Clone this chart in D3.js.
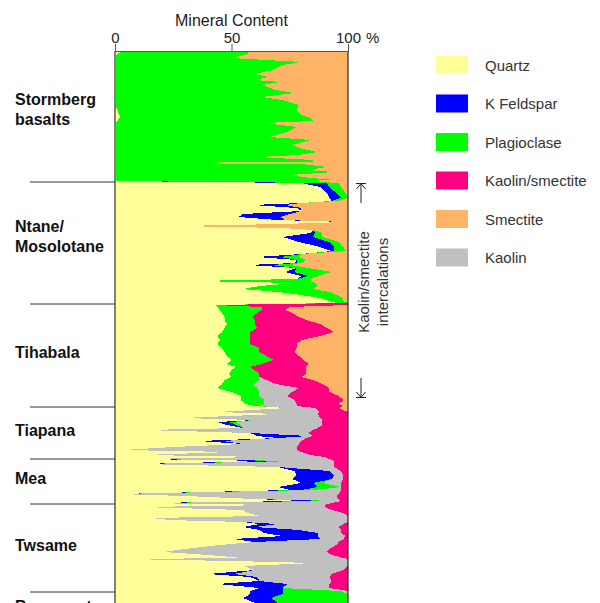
<!DOCTYPE html>
<html><head><meta charset="utf-8">
<script src="https://cdn.jsdelivr.net/npm/d3@7"></script>
<style>body{margin:0;background:#fff}svg{display:block}</style>
</head><body>
<svg id="chart" width="600" height="603"></svg>
<script>
// ---- data (depth in m below top of section, values in %) ----
const depth = [
  0,3,7,11,14,19,23,26,29,31,34,39,42,46,49,54,59,64,67,70,72,76,81,86,89,94,97,101,104,106,109,111,112,113,116,119,121,124,127,129,130,
  132,136,142,147,150,152,154,157,160,163,166,169,171,173,175,177,179,182,186,191,196,200,203,206,209,212,214,217,221,225,228,230,232,235,238,241,244,247,250,252,
  254,256,259,262,266,269,273,277,281,285,289,293,297,301,305,309,313,316,319,323,326,329,333,337,341,345,349,353,355,
  357,361,363,367,369,371,374,377,379,382,385,387,390,393,396,399,401,404,406,408,
  410,413,416,420,424,428,432,436,439,443,445,448,450,452,
  454,456,459,462,465,467,469,471,473,476,479,482,485,488,491,494,498,501,504,507,508,510,512,515,519,523,526,530,533,537,540,543,547,552,561
];
const quartz = [
  3,1,0,0,0,0,0,0,0,0,0,0,0,0,0,0,1,2,2,1,0,0,0,0,0,0,0,0,0,0,0,0,0,0,0,0,0,0,0,0,0,
  80,88,91,92,93,80,59,78,80,55,53,70,99,72,27,72,85,84,72,79,88,93,80,61,78,77,57,78,73,80,78,34,78,62,55,70,80,88,92,95,
  43,44,45,46,47,47,48,47,46,44,45,44,46,47,48,50,48,52,50,49,50,47,46,44,50,54,54,56,60,
  74,44,70,29,60,44,48,55,12,58,61,70,36,55,25,3,50,12,65,10,
  66,10,70,77,78,76,80,70,75,1,30,60,81,11,
  70,11,55,57,62,16,23,55,62,55,62,64,72,51,60,45,30,21,40,55,4,50,86,55,60,40,58,62,44,62,58,58,55,60,60
];
const kFeldspar = [
  0,0,0,0,0,0,0,0,0,0,0,0,0,0,0,0,0,0,0,0,0,0,0,0,0,0,0,0,0,0,0,0,0,0,0,0,0,0,0,0,0,
  11,4,4,5,0,0,14,2,0,20,18,3,0,0,0,0,0,2,13,13,6,1,0,10,0,1,10,0,4,3,0,0,0,0,0,0,0,0,0,0,
  0,0,0,0,0,0,0,0,0,0,0,0,0,0,0,0,0,0,0,0,0,0,0,0,0,0,0,0,0,
  0,0,0,0,0,5,4,0,0,0,22,0,10,0,0,0,0,0,0,0,
  10,0,0,15,16,17,5,17,5,0,0,0,11,0,
  0,0,0,0,0,0,0,0,8,5,17,23,15,37,0,0,0,0,0,0,0,0,0,0,0,11,3,0,30,10,14,14,12,10,10
];
const plagioclase = [
  54,56,50,80,72,68,60,66,60,71,63,69,77,63,72,79,77,78,82,84,64,78,74,66,84,76,79,87,79,61,85,85,6,80,91,82,94,75,84,95,80,
  5,5,4,3,3,0,0,0,0,0,0,0,0,0,0,0,0,3,4,4,4,5,0,8,4,2,8,5,16,4,6,50,8,25,30,22,15,10,6,5,
  0,19,18,15,12,13,12,14,12,14,13,14,16,15,17,18,15,6,10,13,12,15,13,17,12,8,10,8,2,
  0,0,0,0,0,3,2,0,0,0,0,0,0,0,0,0,0,0,0,0,
  6,0,0,0,0,0,4,10,5,0,0,0,5,0,
  0,0,0,0,0,0,0,0,0,0,0,0,0,0,0,0,0,0,0,0,0,0,0,0,0,0,0,0,0,0,25,28,33,30,30
];
const kaolin = [
  0,0,0,0,0,0,0,0,0,0,0,0,0,0,0,0,0,0,0,0,0,0,0,0,0,0,0,0,0,0,0,0,0,0,0,0,0,0,0,0,0,
  0,0,0,0,0,0,0,0,0,0,0,0,0,0,0,0,0,0,0,0,0,0,0,0,0,0,0,0,0,0,0,0,0,0,0,0,0,0,0,0,
  0,0,0,0,0,0,0,0,0,0,0,0,0,0,0,0,0,0,0,0,0,3,10,18,14,12,13,14,16,
  12,44,17,59,29,37,35,32,73,25,2,12,34,24,53,75,30,72,25,82,
  12,84,24,5,4,5,8,0,12,95,65,36,0,82,
  20,79,38,41,38,84,77,45,28,36,18,10,12,10,36,50,62,70,53,43,96,50,14,45,38,42,31,31,18,20,3,0,0,0,0
];
const kaolinSmectite = [
  0,0,0,0,0,0,0,0,0,0,0,0,0,0,0,0,0,0,0,0,0,0,0,0,0,0,0,0,0,0,0,0,0,0,0,0,0,0,0,0,0,
  0,0,0,0,0,0,0,0,0,0,0,0,0,0,0,0,0,0,0,0,0,0,0,0,0,0,0,0,0,0,0,0,0,0,0,0,0,0,0,0,
  57,12,10,15,20,22,28,30,36,30,22,20,16,15,14,13,20,24,22,20,18,20,20,13,16,22,21,18,20,
  10,12,13,12,11,11,11,13,15,17,15,18,20,21,22,22,20,16,10,8,
  6,6,6,3,2,2,3,3,3,4,5,4,3,7,
  10,10,7,2,0,0,0,0,2,4,3,3,1,2,4,5,8,9,7,2,0,0,0,0,2,7,8,7,8,8,0,0,0,0,0
];
const smectite = [
  43,43,50,20,28,32,40,34,40,29,37,31,23,37,28,21,22,20,16,15,36,22,26,34,16,24,21,13,21,39,15,15,94,20,9,18,6,25,16,5,20,
  4,3,1,0,4,20,27,20,20,25,29,27,1,28,73,28,15,11,11,4,2,1,20,21,18,20,25,17,7,13,16,16,14,13,15,8,5,2,2,0,
  0,25,27,24,21,18,12,9,6,12,20,22,22,23,21,19,17,18,18,18,20,15,11,8,8,4,2,4,2,
  4,0,0,0,0,0,0,0,0,0,0,0,0,0,0,0,0,0,0,0,
  0,0,0,0,0,0,0,0,0,0,0,0,0,0,
  0,0,0,0,0,0,0,0,0,0,0,0,0,0,0,0,0,0,0,0,0,0,0,0,0,0,0,0,0,0,0,0,0,0,0
];

const stackKeys = ["Quartz","K Feldspar","Plagioclase","Kaolin","Kaolin/smectite","Smectite"];
const legendNames = ["Quartz","K Feldspar","Plagioclase","Kaolin/smectite","Smectite","Kaolin"];
const mineralColors = {
  "Quartz":"#ffff99","K Feldspar":"#0000ff","Plagioclase":"#00ff00",
  "Kaolin/smectite":"#ff0080","Smectite":"#ffb366","Kaolin":"#c0c0c0"
};
const formationNames = [["Stormberg","basalts"],["Ntane/","Mosolotane"],["Tihabala"],["Tiapana"],["Mea"],["Twsame"],["Basement"]];
const formationTops  = [0,131,253,356,408,453,541];
const formationBases = [131,253,356,408,453,541,575];
const xTicks = [0,50,100];

// ---- build ----
const series = {"Quartz":quartz,"K Feldspar":kFeldspar,"Plagioclase":plagioclase,
  "Kaolin":kaolin,"Kaolin/smectite":kaolinSmectite,"Smectite":smectite};
const rows = depth.map((d,i)=>{
  const r = {depth:d};
  stackKeys.forEach(k=>r[k]=series[k][i]);
  return r;
});

const FONT = "'Liberation Sans', Arial, sans-serif";
const svg = d3.select("#chart");
const x = d3.scaleLinear().domain([0,100]).range([115,348]);
const y = d3.scaleLinear().domain([0,552]).range([51,603]);

svg.append("defs").append("clipPath").attr("id","plotclip")
  .append("rect").attr("x",x(0)).attr("y",y(0)).attr("width",x(100)-x(0)).attr("height",y(552)-y(0)+5);

const stacked = d3.stack().keys(stackKeys).offset(d3.stackOffsetExpand)(rows);
const area = d3.area().curve(d3.curveLinear)
  .y(d=>y(d.data.depth))
  .x0(d=>x(d[0]*100)).x1(d=>x(d[1]*100));

svg.append("g").attr("clip-path","url(#plotclip)")
  .selectAll("path").data(stacked).join("path")
  .attr("d",area).attr("fill",d=>mineralColors[d.key])
  .attr("shape-rendering","crispEdges");

// borders
svg.append("line").attr("x1",x(0)).attr("x2",x(0)).attr("y1",y(0)).attr("y2",603)
  .attr("stroke","#808080").attr("stroke-width",2);
svg.append("line").attr("x1",x(100)).attr("x2",x(100)).attr("y1",y(0)).attr("y2",603)
  .attr("stroke","#000").attr("stroke-width",1);

// top axis
const axis = svg.append("g").attr("transform",`translate(0,${y(0)})`)
  .call(d3.axisTop(x).tickValues(xTicks).tickSize(7).tickSizeOuter(0).tickPadding(1).tickFormat(d3.format("d")));
axis.select(".domain").attr("stroke","#555");
axis.selectAll(".tick line").attr("stroke","#555");
axis.selectAll("text").attr("font-family",FONT).attr("font-size",15).attr("fill","#222");
svg.append("text").attr("x",x(100)+18).attr("y",y(0)-8).text("%")
  .attr("font-family",FONT).attr("font-size",15).attr("fill","#222");
svg.append("text").attr("x",(x(0)+x(100))/2).attr("y",26).attr("text-anchor","middle")
  .text("Mineral Content").attr("font-family",FONT).attr("font-size",16).attr("fill","#222");

// formations
formationTops.forEach((t,i)=>{
  if(i>0) svg.append("line").attr("x1",30).attr("x2",x(0)).attr("y1",y(t)).attr("y2",y(t))
    .attr("stroke","#333").attr("stroke-width",1);
  const lines = formationNames[i];
  const c = y((t+formationBases[i])/2) - 3 - (lines.length-1)*4;
  const txt = svg.append("text").attr("font-family",FONT).attr("font-size",16)
    .attr("font-weight","bold").attr("fill","#111");
  lines.forEach((s,j)=>{
    txt.append("tspan").attr("x",15).attr("y",c-(lines.length-1)*10+j*20+5.5).text(s);
  });
});

// legend
const lg = svg.append("g");
legendNames.forEach((n,i)=>{
  const ty = 56 + i*38.5;
  lg.append("rect").attr("x",436).attr("y",ty).attr("width",32).attr("height",18)
    .attr("fill",mineralColors[n]);
  lg.append("text").attr("x",485).attr("y",ty+14.5).text(n)
    .attr("font-family",FONT).attr("font-size",15).attr("fill","#333");
});

// annotation
const ann = svg.append("g").attr("font-family",FONT).attr("font-size",15).attr("fill","#333");
ann.append("text").attr("transform","translate(369,282) rotate(-90)").attr("text-anchor","middle").text("Kaolin/smectite");
ann.append("text").attr("transform","translate(388,282) rotate(-90)").attr("text-anchor","middle").text("intercalations");
const arr = svg.append("g").attr("stroke","#222").attr("stroke-width",1).attr("fill","none");
arr.append("path").attr("d","M356,183.5H366M361,183.5V203M356.5,189L361,183.5L365.5,189");
arr.append("path").attr("d","M356,397.5H366M361,397.5V378M356.5,392L361,397.5L365.5,392");
</script>
</body></html>
